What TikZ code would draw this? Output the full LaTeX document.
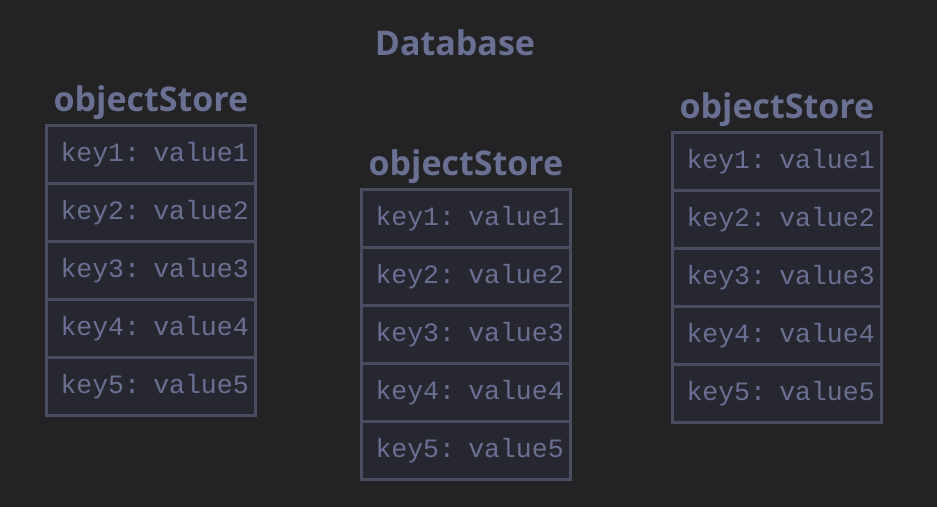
\documentclass[tikz,border=0pt]{standalone}
\usepackage{fontspec}
\setmainfont{Open Sans}
\setmonofont{Liberation Mono}
\usetikzlibrary{positioning}
\definecolor{bgdark}{HTML}{232326}
\definecolor{cellfill}{HTML}{262731}
\definecolor{cellline}{HTML}{4A4D62}
\definecolor{labeltext}{HTML}{6A7092}

\begin{document}
\begin{tikzpicture}[
  x=1pt, y=-1pt,
  cell/.style={rectangle, draw=cellline, fill=cellfill, line width=3pt,
    minimum width=209pt, minimum height=58pt, text width=181pt, inner xsep=14pt,
    text height=18pt, text depth=4pt,
    align=left, text=labeltext, font=\ttfamily\fontsize{26.5}{30}\selectfont},
  storetitle/.style={text=labeltext, font=\bfseries\fontsize{34}{40}\selectfont}
]
\fill[bgdark] (0,0) rectangle (937,507);
\useasboundingbox (0,0) rectangle (937,507);
\node[storetitle] (db) at (455,43) {Database};
\foreach \s/\x/\y in {left/151/125, mid/466/189, right/777/132} {
  \node[storetitle] (\s title) at (\x,\y-22) {objectStore};
  \foreach \k in {1,...,5} {
    \node[cell] (\s\k) at (\x,{\y+29+58*(\k-1)}) {\mbox{key\k: value\k}};
  }
}
\end{tikzpicture}
\end{document}
